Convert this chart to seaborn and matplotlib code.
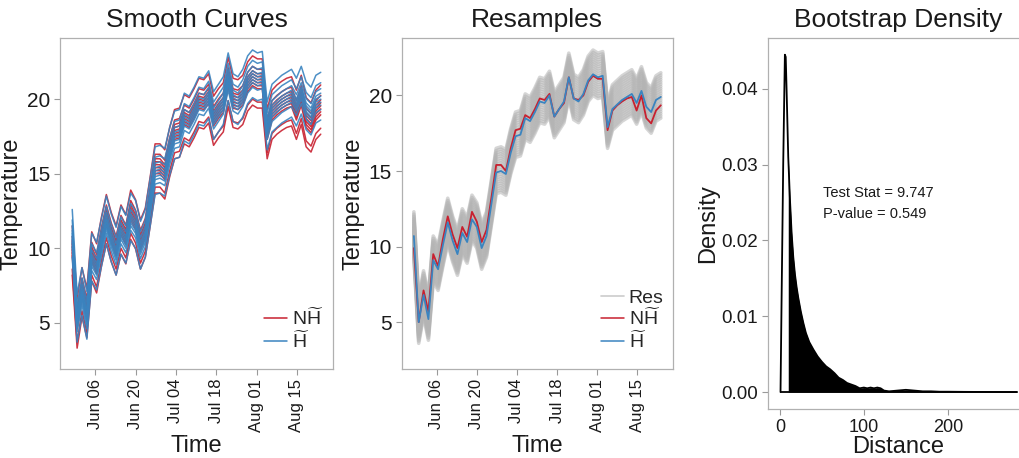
import numpy as np
import pandas as pd
import matplotlib
matplotlib.use("Agg")
import matplotlib.pyplot as plt
import matplotlib.dates as mdates
from matplotlib.lines import Line2D
import seaborn as sns

# ---------------- data ----------------
start_date = "2015-05-29 00:00"
end_date = "2015-08-23 06:00"
n_nodes = 52

red_mean = [9.9, 5.0, 7.1, 5.7, 9.5, 8.7, 10.5, 12.0, 10.8, 9.9, 11.3, 10.65, 12.3,
            11.65, 10.3, 11.1, 13.2, 15.4, 15.4, 15.0, 16.5, 17.7, 17.8, 18.7, 18.5,
            19.1, 19.8, 19.7, 20.1, 18.6, 19.1, 19.5, 21.2, 19.8, 19.7, 20.0, 20.9,
            21.3, 21.1, 21.1, 17.7, 19.0, 19.35, 19.6, 19.8, 19.9, 19.0, 20.0, 18.5,
            18.15, 19.0, 19.35]
blue_mean = [10.7, 5.0, 6.8, 5.2, 9.1, 8.5, 10.1, 11.6, 10.4, 9.5, 10.9, 10.3, 11.8,
             11.3, 9.9, 10.7, 12.8, 14.9, 15.0, 14.8, 16.2, 17.3, 17.4, 18.5, 18.3,
             18.9, 19.6, 19.5, 20.0, 18.6, 19.1, 19.6, 21.2, 19.8, 19.6, 20.1, 21.0,
             21.4, 21.2, 21.3, 17.9, 19.1, 19.4, 19.7, 19.9, 20.1, 19.5, 20.3, 19.25,
             18.9, 19.7, 19.9]

red_offsets = [1.6, 0.9, 0.6, 0.4, 0.2, 0.0, -0.2, -0.4, -1.3, -1.7]
blue_offsets = [1.9, 1.2, 0.8, 0.5, 0.3, 0.1, -0.1, -0.3, -0.6, -1.3]
res_offsets = [-1.4, -1.25, -1.1, -0.95, -0.8, -0.65, -0.5, -0.35, -0.2, -0.05, 0.1,
               0.25, 0.4, 0.55, 0.7, 0.85, 1.0, 1.15, 1.3, 1.45, 1.6]

tick_dates = ["2015-06-06", "2015-06-20", "2015-07-04", "2015-07-18",
              "2015-08-01", "2015-08-15"]
xlim_dates = ["2015-05-24 18:00", "2015-08-27 12:00"]

dist = [0.8, 2, 4, 6, 7, 8, 10, 12, 14, 16, 18, 20, 22, 25, 28, 31, 35, 40, 45, 50,
        55, 60, 65, 70, 75, 80, 85, 90, 95, 100, 104, 108, 112, 116, 120, 124, 130,
        140, 150, 160, 170, 180, 190, 200, 220, 240, 260, 282]
dens = [0.0, 0.0115, 0.030, 0.0445, 0.0442, 0.0400, 0.0310, 0.0255, 0.0210, 0.0178,
        0.0155, 0.0138, 0.0124, 0.0106, 0.0091, 0.0078, 0.0066, 0.0056, 0.0047, 0.0040,
        0.0034, 0.0030, 0.0025, 0.0019, 0.0016, 0.0012, 0.0010, 0.0008, 0.0005, 0.0006,
        0.0005, 0.0006, 0.0005, 0.0006, 0.0005, 0.0002, 0.0001, 0.0002, 0.0003, 0.0002,
        0.0001, 0.0001, 0.00005, 0.00005, 0.00003, 0.00002, 0.00001, 0.0]
test_stat = 9.747
p_value = 0.549

# ---------------- style ----------------
sns.set_theme(style="white")
plt.rcParams['font.family'] = ['Liberation Sans', 'DejaVu Sans']
plt.rcParams['mathtext.fontset'] = 'custom'
plt.rcParams['mathtext.rm'] = 'Liberation Sans'
plt.rcParams['mathtext.it'] = 'Liberation Sans:italic'

RED = "#C8202F"
BLUE = "#3A84C0"
GREY = "#B4B4B4"
TXT = "#1A1A1A"
lab_nh = r"$\mathrm{N}\widetilde{\mathrm{H}}$"
lab_h = r"$\widetilde{\mathrm{H}}$"

dates = pd.date_range(start_date, end_date, periods=n_nodes)

rows = []
for j, off in enumerate(red_offsets):
    for d, v in zip(dates, red_mean):
        rows.append((d, v + off, "NH", f"r{j}"))
for j, off in enumerate(blue_offsets):
    for d, v in zip(dates, blue_mean):
        rows.append((d, v + off, "H", f"b{j}"))
df1 = pd.DataFrame(rows, columns=["date", "temp", "group", "curve"])

rows = []
for j, off in enumerate(res_offsets):
    for d, v in zip(dates, blue_mean):
        rows.append((d, v + off, f"s{j}"))
df_res = pd.DataFrame(rows, columns=["date", "temp", "curve"])
df_means = pd.DataFrame({
    "date": list(dates) * 2,
    "temp": red_mean + blue_mean,
    "group": ["NH"] * n_nodes + ["H"] * n_nodes,
})

W, H = 1019, 458
fig = plt.figure(figsize=(W / 100, H / 100), dpi=100)
fig.patch.set_facecolor("white")

def box(l, r, t, b):
    return [l / W, (H - b) / H, (r - l) / W, (b - t) / H]

ax1 = fig.add_axes(box(60, 333, 38, 369))
ax2 = fig.add_axes(box(401.7, 673, 38, 369))
ax3 = fig.add_axes(box(768, 1028.5, 38, 409))

def style(ax):
    for s in ax.spines.values():
        s.set_color("#B0B0B0")
        s.set_linewidth(0.9)
    ax.tick_params(axis="both", direction="out", length=4, width=0.8,
                   color="#9A9A9A", labelcolor=TXT, bottom=True, left=True, pad=3)
    ax.grid(False)

# ---- panel 1 ----
sns.lineplot(data=df1[df1.group == "NH"], x="date", y="temp", units="curve",
             estimator=None, color=RED, lw=1.1, alpha=0.9, ax=ax1, legend=False)
sns.lineplot(data=df1[df1.group == "H"], x="date", y="temp", units="curve",
             estimator=None, color=BLUE, lw=1.1, alpha=0.9, ax=ax1, legend=False)
ax1.set_ylim(1.9, 24.1)

# ---- panel 2 ----
sns.lineplot(data=df_res, x="date", y="temp", units="curve", estimator=None,
             color=GREY, lw=2.6, alpha=0.55, ax=ax2, legend=False)
sns.lineplot(data=df_means[df_means.group == "NH"], x="date", y="temp",
             color=RED, lw=1.3, ax=ax2, legend=False)
sns.lineplot(data=df_means[df_means.group == "H"], x="date", y="temp",
             color=BLUE, lw=1.3, ax=ax2, legend=False)
ax2.set_ylim(1.9, 23.8)

for ax, title in [(ax1, "Smooth Curves"), (ax2, "Resamples")]:
    style(ax)
    ax.set_xlim(pd.to_datetime(xlim_dates[0]), pd.to_datetime(xlim_dates[1]))
    ax.set_xticks(pd.to_datetime(tick_dates))
    ax.xaxis.set_major_formatter(mdates.DateFormatter("%b %d"))
    ax.set_yticks([5, 10, 15, 20])
    plt.setp(ax.get_xticklabels(), rotation=90, fontsize=12)
    plt.setp(ax.get_yticklabels(), fontsize=15)
    ax.set_xlabel("Time", fontsize=17, color=TXT, labelpad=2)
    ax.set_ylabel("Temperature", fontsize=17, color=TXT, labelpad=3)
    ax.set_title(title, fontsize=19, color=TXT, pad=8)

h_list1 = [Line2D([], [], color=RED, lw=1.1), Line2D([], [], color=BLUE, lw=1.1)]
ax1.legend(h_list1, [lab_nh, lab_h], loc="lower right", frameon=False, fontsize=14,
           handlelength=1.2, handletextpad=0.25, labelspacing=0.05,
           bbox_to_anchor=(1.03, 0.0))
h_list2 = [Line2D([], [], color="#CCCCCC", lw=1.2), Line2D([], [], color=RED, lw=1.1),
           Line2D([], [], color=BLUE, lw=1.1)]
ax2.legend(h_list2, ["Res", lab_nh, lab_h], loc="lower right", frameon=False,
           fontsize=14, handlelength=1.2, handletextpad=0.25, labelspacing=0.05,
           bbox_to_anchor=(1.03, 0.0))

# ---- panel 3 ----
d_arr = np.array(dist)
y_arr = np.array(dens)
ax3.fill_between(d_arr, 0, y_arr, color="white", zorder=1)
ax3.fill_between(d_arr, 0, y_arr, where=d_arr >= test_stat, color="black",
                 lw=0, zorder=2)
sns.lineplot(x=dist, y=dens, color="black", lw=1.3, ax=ax3, sort=False, zorder=3)
sns.lineplot(x=[dist[0], dist[-1]], y=[0, 0], color="black", lw=1.3, ax=ax3, zorder=3)
ax3.set_xlim(-14.1, 296)
ax3.set_ylim(-0.00223, 0.0467)
ax3.set_xticks([0, 100, 200])
ax3.set_yticks([0.0, 0.01, 0.02, 0.03, 0.04])
ax3.set_yticklabels(["0.00", "0.01", "0.02", "0.03", "0.04"])
style(ax3)
plt.setp(ax3.get_xticklabels(), fontsize=13)
plt.setp(ax3.get_yticklabels(), fontsize=13.5)
ax3.set_xlabel("Distance", fontsize=17, color=TXT, labelpad=0)
ax3.set_ylabel("Density", fontsize=17, color=TXT, labelpad=2)
ax3.set_title("Bootstrap Density", fontsize=19, color=TXT, pad=8)
ax3.text(51, 0.0263, f"Test Stat = {test_stat}", fontsize=10.5, va="center", color=TXT)
ax3.text(51, 0.0235, f"P-value = {p_value}", fontsize=10.5, va="center", color=TXT)

fig.savefig("out.png", dpi=100, facecolor="white")
